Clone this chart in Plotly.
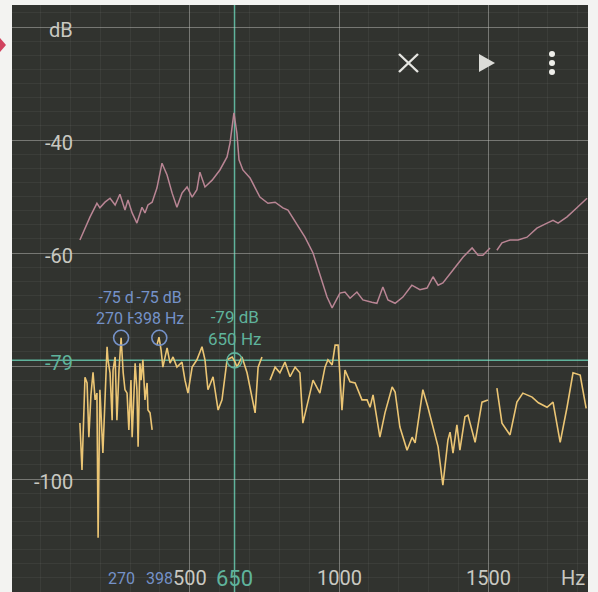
import plotly.graph_objects as go

# ---------------- data ----------------
ref_freq = [132, 166, 189, 199, 216, 233, 250, 266, 283, 293, 307, 323, 340, 350, 360, 374,
            390, 407, 424, 441, 457, 474, 491, 508, 524, 534, 551, 575, 601, 625, 635, 645,
            648, 658, 665, 678, 702, 735, 762, 786, 812, 829, 859, 886, 913, 946, 960, 977,
            987, 1003, 1020, 1037, 1060, 1080, 1110, 1127, 1147, 1164, 1188, 1214, 1244, 1271,
            1295, 1315, 1332, 1348, 1382, 1416, 1446, 1466, 1482, 1506, 1518, 1529, 1546, 1573,
            1600, 1630, 1663, 1697, 1717, 1734, 1764, 1797, 1831]
ref_db = [-57.7, -53.6, -51.2, -52.0, -51.0, -50.3, -51.5, -49.6, -52.4, -50.6, -52.9, -54.7,
          -51.9, -52.9, -51.5, -51.0, -48.5, -44.1, -46.2, -49.4, -51.9, -49.4, -48.3, -50.1,
          -48.8, -45.7, -48.3, -47.1, -45.3, -43.0, -40.5, -36.5, -35.2, -38.8, -43.5, -45.3,
          -46.7, -50.1, -51.2, -51.0, -52.0, -52.4, -55.0, -57.2, -60.0, -65.3, -67.8, -69.7,
          -68.7, -67.1, -66.9, -68.0, -66.9, -68.3, -68.7, -68.9, -66.0, -68.3, -68.9, -67.8,
          -65.7, -66.5, -66.2, -64.2, -65.7, -65.3, -63.0, -60.7, -59.1, -60.4, -60.4, -59.1,
          None, -59.5, -58.2, -57.7, -57.7, -57.2, -55.6, -54.7, -54.2, -54.7, -53.6, -52.0,
          -50.3]

live_freq = [132, 139, 149, 156, 162, 169, 176, 183, 189, 193, 199, 206, 209, 216, 223, 226,
             233, 240, 243, 250, 256, 263, 270, 277, 283, 290, 296, 303, 307, 313, 317, 323,
             327, 333, 337, 343, 350, 357, 360, 367, 374, 382, 390, 397, 404, 410, 424, 434,
             444, 457, 474, 484, 494, 508, 524, 541, 551, 561, 578, 595, 608, 625, 642, 652,
             658, 675, 692, 709, 719, 729, 742, 755, 769, 786, 802, 819, 836, 853, 869, 879,
             913, 936, 953, 963, 977, 987, 997, 1010, 1020, 1037, 1054, 1077, 1094, 1104,
             1114, 1137, 1154, 1178, 1188, 1204, 1228, 1245, 1255, 1281, 1298, 1315, 1332,
             1348, 1365, 1372, 1382, 1395, 1405, 1422, 1432, 1456, 1479, 1499, 1514, 1529,
             1546, 1573, 1596, 1616, 1647, 1668, 1697, 1717, 1741, 1764, 1784, 1808, 1828]
live_db = [-90.1, -98.4, -82.0, -83.0, -92.6, -85.1, -81.1, -86.0, -84.8, -110.4, -84.2,
           -91.9, -95.4, -86.0, -76.6, -78.9, -81.2, -89.6, -80.7, -78.4, -89.6, -80.7, -75.0,
           -81.2, -84.2, -84.8, -91.3, -82.5, -92.6, -85.1, -79.5, -84.2, -94.3, -79.5, -82.5,
           -78.9, -86.0, -83.0, -87.8, -88.3, -91.3, None, -76.3, -74.9, -77.2, -80.2, -76.8,
           -79.5, -78.4, -80.2, -79.3, -82.5, -84.8, -80.2, -78.9, -76.6, -78.9, -84.2, -81.9,
           -87.8, -86.0, -78.9, -78.4, -79.3, -80.2, -78.4, -81.2, -85.5, -88.3, -80.2, -78.4,
           None, -82.5, -80.2, -81.2, -79.3, -81.9, -80.2, -81.2, -90.1, -82.5, -84.8, -80.2,
           -78.9, -79.8, -76.3, -76.3, -87.8, -80.7, -82.8, -83.0, -86.0, -86.0, -87.3, -85.1,
           -92.6, -88.3, -83.7, -84.6, -90.8, -94.9, -92.6, -93.6, -84.2, -87.3, -90.8, -94.3,
           -101.1, -93.1, -91.7, -95.4, -90.4, -94.9, -89.0, -88.7, -93.5, -86.4, -86.0, None,
           -83.9, -90.1, -92.2, -86.4, -84.8, -85.5, -86.5, -87.3, -86.4, -93.5, -87.3, -81.2,
           -81.6, -87.5]

peak_freq = [270, 398]
peak_db = [-75, -75]
cursor_freq = 650
cursor_db = -79

x_tick_vals = [500, 1000, 1500]
x_tick_text = ["500", "1000", "1500"]
y_grid_vals = [-20, -40, -60, -80, -100]
y_tick_vals = [-20, -40, -60, -100]
y_tick_text = ["dB", "-40", "-60", "-100"]

# ---------------- styling ----------------
W, H = 598, 592
L, R, T, B = 12, 10, 5, 0
PANEL = "#31332f"
GRID = "rgba(200,200,195,0.42)"
MINOR = "rgba(200,200,195,0.07)"
PINK = "#b98594"
YELLOW = "#ebc574"
TEAL = "#5fb39c"
BLUE = "#7592c9"
LABEL = "#c9c9c2"
FONT = "Roboto"


def px(x):
    return (x - L) / (W - L - R)


def py(y):
    return 1 - (y - T) / (H - T - B)


fig = go.Figure()
fig.add_trace(go.Scatter(x=ref_freq, y=ref_db, mode="lines",
                         line=dict(color=PINK, width=1.5), connectgaps=False,
                         hoverinfo="skip"))
fig.add_trace(go.Scatter(x=live_freq, y=live_db, mode="lines",
                         line=dict(color=YELLOW, width=1.6), connectgaps=False,
                         hoverinfo="skip"))
fig.add_trace(go.Scatter(x=peak_freq, y=peak_db, mode="markers",
                         marker=dict(symbol="circle-open", size=15, color=BLUE,
                                     line=dict(width=1.6)), hoverinfo="skip"))
fig.add_trace(go.Scatter(x=[cursor_freq], y=[cursor_db], mode="markers",
                         marker=dict(symbol="circle-open", size=15, color=TEAL,
                                     line=dict(width=1.6)), hoverinfo="skip"))

shapes = [
    dict(type="line", xref="x", yref="paper", x0=cursor_freq, x1=cursor_freq, y0=0, y1=1,
         line=dict(color=TEAL, width=1.5), layer="between"),
    dict(type="line", xref="paper", yref="y", x0=0, x1=1, y0=cursor_db, y1=cursor_db,
         line=dict(color=TEAL, width=1.5), layer="between"),
    # toolbar icons
    dict(type="line", xref="paper", yref="paper", x0=px(399), y0=py(54), x1=px(418), y1=py(72),
         line=dict(color="#e6e6e2", width=2.4)),
    dict(type="line", xref="paper", yref="paper", x0=px(399), y0=py(72), x1=px(418), y1=py(54),
         line=dict(color="#e6e6e2", width=2.4)),
    dict(type="path", xref="paper", yref="paper",
         path=f"M {px(479)} {py(54)} L {px(495)} {py(63)} L {px(479)} {py(72)} Z",
         fillcolor="#dcdcd8", line=dict(width=0)),
    # red marker at the left edge
    dict(type="path", xref="paper", yref="paper",
         path=f"M {px(0)} {py(38)} L {px(6)} {py(45)} L {px(0)} {py(52)} Z",
         fillcolor="#d1435f", line=dict(width=0)),
]
for cy in (54, 63, 72):
    shapes.append(dict(type="circle", xref="paper", yref="paper",
                       x0=px(549), x1=px(555), y0=py(cy - 3), y1=py(cy + 3),
                       fillcolor="#eeeeea", line=dict(width=0)))

annotations = []
for v, t in zip(y_tick_vals, y_tick_text):
    annotations.append(dict(x=px(75), xref="paper", y=v, yref="y", text=t,
                            xanchor="right", yanchor="middle", yshift=-3, showarrow=False,
                            font=dict(family=FONT, size=20, color=LABEL)))
annotations.append(dict(x=px(75), xref="paper", y=cursor_db, yref="y", text=f"{cursor_db}",
                        xanchor="right", yanchor="middle", yshift=-3, showarrow=False,
                        font=dict(family=FONT, size=20, color=TEAL)))
for v, t in zip(x_tick_vals, x_tick_text):
    annotations.append(dict(x=v, xref="x", y=py(578), yref="paper", text=t,
                            xanchor="center", yanchor="middle", showarrow=False,
                            font=dict(family=FONT, size=20, color=LABEL)))
for f in peak_freq:
    annotations.append(dict(x=f, xref="x", y=py(578), yref="paper", text=str(f),
                            xanchor="center", yanchor="middle", showarrow=False,
                            font=dict(family=FONT, size=16, color=BLUE)))
annotations.append(dict(x=cursor_freq, xref="x", y=py(578), yref="paper", text=str(cursor_freq),
                        xanchor="center", yanchor="middle", showarrow=False,
                        font=dict(family=FONT, size=22, color=TEAL)))
annotations.append(dict(x=px(587), xref="paper", y=py(578), yref="paper", text="Hz",
                        xanchor="right", yanchor="middle", showarrow=False,
                        font=dict(family=FONT, size=20, color=LABEL)))
for i, (f, d) in enumerate(zip(peak_freq, peak_db)):
    annotations.append(dict(x=f, xref="x", y=d, yref="y",
                            text=f"{d} dB<br>{f} Hz", xanchor="center", yanchor="bottom",
                            yshift=9, showarrow=False, align="center",
                            bgcolor=PANEL if i > 0 else None, borderpad=0,
                            font=dict(family=FONT, size=16, color=BLUE)))
annotations.append(dict(x=cursor_freq, xref="x", y=cursor_db, yref="y",
                        text=f"{cursor_db} dB<br>{cursor_freq} Hz", xanchor="center",
                        yanchor="bottom", yshift=9, showarrow=False, align="center",
                        font=dict(family=FONT, size=17, color=TEAL)))

fig.update_layout(
    width=W, height=H,
    margin=dict(l=L, r=R, t=T, b=B),
    paper_bgcolor="#f3f3f1",
    plot_bgcolor=PANEL,
    showlegend=False,
    shapes=shapes,
    annotations=annotations,
    xaxis=dict(range=[-95.5, 1834.2], tickmode="array", tickvals=x_tick_vals,
               showticklabels=False, showgrid=True, gridcolor=GRID, gridwidth=1,
               zeroline=False, showline=False, ticks="",
               minor=dict(dtick=100, tick0=0, showgrid=True, gridcolor=MINOR, gridwidth=1)),
    yaxis=dict(range=[-120.0, -16.1], tickmode="array", tickvals=y_grid_vals,
               showticklabels=False, showgrid=True, gridcolor=GRID, gridwidth=1,
               zeroline=False, showline=False, ticks="",
               minor=dict(dtick=2.5, tick0=0, showgrid=True, gridcolor=MINOR, gridwidth=1)),
)

fig.write_html("out.html", config={"displayModeBar": False},
               post_script="document.body.style.margin='0';document.body.style.overflow='hidden';")
